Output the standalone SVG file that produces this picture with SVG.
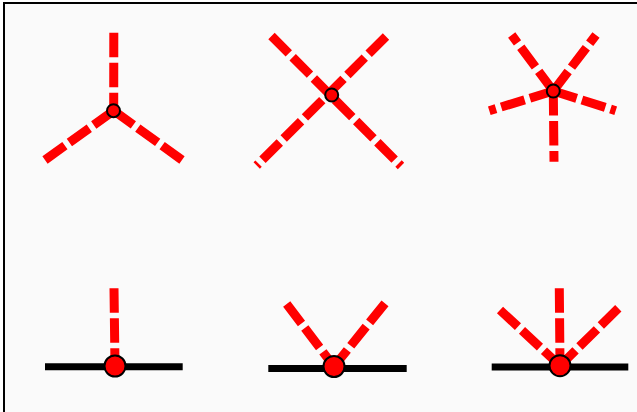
<svg xmlns="http://www.w3.org/2000/svg" width="637" height="412" viewBox="0 0 637 412">
<style>
.dash{stroke:#ff0000;stroke-width:9;stroke-dasharray:24.5 5.5;fill:none;stroke-linecap:butt}
.bar{stroke:#000;stroke-width:7;fill:none}
.sm{fill:#ff0000;stroke:#000;stroke-width:2}
.lg{fill:#ff0000;stroke:#000;stroke-width:2}
</style>
<rect x="0" y="0" width="637" height="412" fill="#ffffff"/>
<rect x="4" y="3" width="633" height="409" fill="#fafafa"/>
<path d="M4,412 V3 H637" fill="none" stroke="#000" stroke-width="2"/>
<g id="bases">
<line class="bar" x1="45" y1="366.7" x2="182.7" y2="366.7"/>
<line class="bar" x1="268.3" y1="368.5" x2="406.7" y2="368.5"/>
<line class="bar" x1="491.7" y1="367" x2="628.3" y2="367"/>
</g>
<g id="connectors">
<line class="dash" x1="113.8" y1="32.7" x2="113.7" y2="110.7"/>
<line class="dash" x1="45" y1="160" x2="113.7" y2="110.7"/>
<line class="dash" x1="182" y1="160" x2="113.7" y2="110.7"/>
<line class="dash" x1="271.5" y1="36" x2="401" y2="166"/>
<line class="dash" x1="386" y1="36.5" x2="256.7" y2="165.5"/>
<line class="dash" x1="553.3" y1="91" x2="511.7" y2="35"/>
<line class="dash" x1="553.3" y1="91" x2="596" y2="35"/>
<line class="dash" x1="553.3" y1="91" x2="489.3" y2="110.7"/>
<line class="dash" x1="553.3" y1="91" x2="615.7" y2="110.7"/>
<line class="dash" x1="553.3" y1="91" x2="554" y2="161.7"/>
<line class="dash" x1="114" y1="288.3" x2="115" y2="366"/>
<line class="dash" x1="286.7" y1="304" x2="334" y2="366.5"/>
<line class="dash" x1="385" y1="303.3" x2="334" y2="366.5"/>
<line class="dash" x1="559.3" y1="288.3" x2="560" y2="365.7"/>
<line class="dash" x1="500" y1="310" x2="560" y2="365.7"/>
<line class="dash" x1="618.3" y1="308.3" x2="560" y2="365.7"/>
</g>
<g id="node-1"><circle class="sm" cx="113.5" cy="110.7" r="6.5"/></g>
<g id="node-2"><circle class="sm" cx="331.7" cy="95" r="6.5"/></g>
<g id="node-3"><circle class="sm" cx="553.3" cy="91" r="6.5"/></g>
<g id="node-4"><circle class="lg" cx="115" cy="366" r="10.5"/></g>
<g id="node-5"><circle class="lg" cx="334" cy="366.5" r="10.5"/></g>
<g id="node-6"><circle class="lg" cx="560" cy="365.7" r="10.5"/></g>
</svg>
